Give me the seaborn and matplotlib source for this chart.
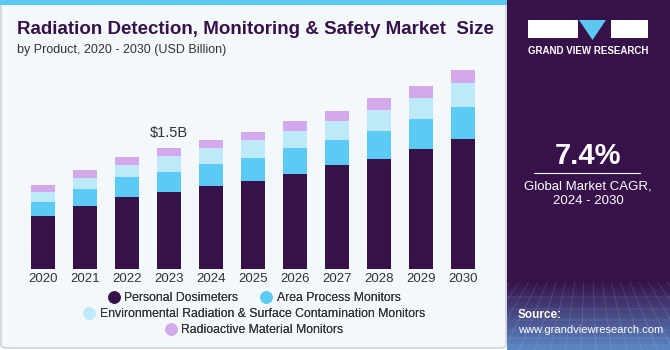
# Stacked bar chart: radiation detection market size by product
import numpy as np
import pandas as pd
import seaborn as sns
import matplotlib.pyplot as plt
from matplotlib.patches import Rectangle, FancyBboxPatch, Polygon

years = ['2020', '2021', '2022', '2023', '2024', '2025', '2026', '2027', '2028', '2029', '2030']
personal_dosimeters = [0.657, 0.781, 0.893, 0.958, 1.033, 1.099, 1.185, 1.290, 1.368, 1.495, 1.612]
area_process = [0.181, 0.215, 0.248, 0.252, 0.273, 0.285, 0.319, 0.317, 0.351, 0.368, 0.404]
environmental = [0.120, 0.136, 0.153, 0.191, 0.198, 0.219, 0.215, 0.232, 0.260, 0.264, 0.298]
radioactive = [0.083, 0.099, 0.099, 0.099, 0.103, 0.103, 0.120, 0.128, 0.141, 0.145, 0.154]

series = ['Personal Dosimeters', 'Area Process Monitors',
          'Environmental Radiation & Surface Contamination Monitors',
          'Radioactive Material Monitors']
colors = ['#371149', '#5bcbf5', '#bde9f9', '#d4a9eb']

df = pd.DataFrame({'year': years,
                   series[0]: personal_dosimeters,
                   series[1]: area_process,
                   series[2]: environmental,
                   series[3]: radioactive})

sns.set_theme(style='white')
plt.rcParams['font.family'] = ['Liberation Sans', 'DejaVu Sans']

W, H = 670, 350
fig = plt.figure(figsize=(6.7, 3.5), dpi=100)
fig.patch.set_facecolor('white')


def fig_patch(p, z=-10):
    p.set_transform(fig.transFigure)
    p.set_zorder(z)
    fig.patches.append(p)


# left panel background with border and blue top stripe
fig_patch(FancyBboxPatch((1 / W, 2 / H), 505 / W, 346 / H, boxstyle='round,pad=0,rounding_size=0.01',
                         facecolor='#f3f8fb', edgecolor='#cfd3d6', lw=1.2))
fig_patch(Rectangle((0, 345 / H), 507 / W, 5 / H, facecolor='#5bc8f2', edgecolor='none'))

# right panel
fig_patch(Rectangle((507 / W, 0), 163 / W, 1, facecolor='#37124a', edgecolor='none'))
grad_ax = fig.add_axes([507 / W, 0, 163 / W, 68 / H])
grad = np.linspace(0, 1, 100).reshape(-1, 1)
grad_ax.imshow(grad, aspect='auto', cmap=sns.blend_palette(['#5a87c4', '#37124a'], as_cmap=True),
               extent=[0, 1, 0, 1], origin='lower')
for v in np.linspace(-0.3, 1.3, 18):
    grad_ax.plot([v, 0.5 + (v - 0.5) * 0.6], [0, 1], color='white', lw=0.3, alpha=0.25)
for v in [0.08, 0.18, 0.3, 0.44, 0.6, 0.78]:
    grad_ax.axhline(v, color='white', lw=0.3, alpha=0.25)
grad_ax.set_xlim(0, 1)
grad_ax.set_ylim(0, 1)
grad_ax.axis('off')

# logo
fig_patch(Rectangle((528 / W, (H - 38) / H), 50 / W, 18 / H, facecolor='white', edgecolor='none'), -5)
fig_patch(Polygon([(579 / W, (H - 20) / H), (606 / W, (H - 20) / H), (592.5 / W, (H - 40) / H)],
                  closed=True, facecolor='#5bc8f2', edgecolor='none'), -5)
fig_patch(Rectangle((611 / W, (H - 38) / H), 37 / W, 18 / H, facecolor='white', edgecolor='none'), -5)
fig.text(588 / W, 1 - 51 / H, 'GRAND VIEW RESEARCH', color='white', fontsize=7,
         fontweight='bold', ha='center', va='center')

fig.text(588 / W, 1 - 156 / H, '7.4%', color='white', fontsize=21, fontweight='bold',
         ha='center', va='center')
fig.lines.append(plt.Line2D([534 / W, 640 / W], [1 - 173 / H, 1 - 173 / H], color='white',
                            lw=0.8, transform=fig.transFigure))
fig.text(588 / W, 1 - 186 / H, 'Global Market CAGR,', color='white', fontsize=9.5,
         ha='center', va='center')
fig.text(588 / W, 1 - 201 / H, '2024 - 2030', color='white', fontsize=9.5,
         ha='center', va='center')
fig.text(518 / W, 1 - 315 / H, 'Source:', color='white', fontsize=8.5, fontweight='bold',
         ha='left', va='center')
fig.text(518 / W, 1 - 330 / H, 'www.grandviewresearch.com', color='white', fontsize=8,
         ha='left', va='center')

# titles
fig.text(17 / W, 1 - 30 / H, 'Radiation Detection, Monitoring & Safety Market  Size',
         color='#37124a', fontsize=13.5, fontweight='bold', ha='left', va='center')
fig.text(17 / W, 1 - 50 / H, 'by Product, 2020 - 2030 (USD Billion)',
         color='#333333', fontsize=9, ha='left', va='center')

# bars
ax = fig.add_axes([21.7 / W, 80.7 / H, 462.3 / W, 213.8 / H])
ax.set_facecolor('none')
cum = df[series].cumsum(axis=1)
for i in range(3, -1, -1):
    sns.barplot(x=df['year'], y=cum[series[i]], color=colors[i], width=0.57,
                saturation=1, ax=ax, edgecolor='none')
ax.set_xlim(-0.5, 10.5)
ax.set_ylim(0, 2.65)
ax.set_xlabel('')
ax.set_ylabel('')
ax.set_yticks([])
ax.tick_params(axis='x', length=0, pad=3, labelsize=9.5, labelcolor='#333333')
sns.despine(ax=ax, left=True, bottom=True)

total_2023 = cum[series[3]].iloc[3]
ax.annotate('$1.5B', xy=(3, total_2023), xytext=(0, 11), textcoords='offset points',
            ha='center', va='center', fontsize=10.5, color='#333333')


# legend rows
def legend_row(items, y):
    handles = [plt.Line2D([], [], marker='o', ls='', color=colors[k], markersize=8) for k in items]
    leg = fig.legend(handles, [series[k] for k in items], loc='center', ncol=len(items),
                     bbox_to_anchor=(254 / W, 1 - y / H), frameon=False, fontsize=8.8,
                     handletextpad=0.35, columnspacing=1.8, handlelength=1.0)
    for t in leg.get_texts():
        t.set_color('#333333')
    return leg


for items, y in [([0, 1], 298), ([2], 314), ([3], 330)]:
    fig.add_artist(legend_row(items, y))

plt.savefig('out.png', dpi=100, facecolor=fig.get_facecolor())
